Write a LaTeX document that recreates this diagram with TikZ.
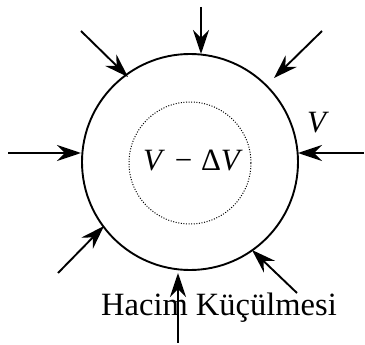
\documentclass[tikz,border=0pt]{standalone}
\usepackage{fontspec}
\setmainfont{Liberation Serif}
\usetikzlibrary{arrows.meta}
\begin{document}
\begin{tikzpicture}[x=1pt,y=-1pt,
  push/.style={line width=1.9pt,-{Stealth[length=24pt,width=16pt,inset=8pt]}},
  lbl/.style={inner sep=0pt,font=\fontsize{31}{37}\selectfont}]
\useasboundingbox (0,0) rectangle (365,345);
\node[circle,draw,line width=1.9pt,minimum size=216pt,inner sep=0pt] (outer) at (190,162) {};
\node[circle,draw,line width=1pt,dash pattern=on 1pt off 1.6pt,minimum size=122pt,inner sep=0pt] (inner) at (190,163) {};
\node[lbl,anchor=base] (dv) at (193,171) {\textit{V}\hspace{2pt} − \hspace{1pt}Δ\textit{V}};
\node[lbl,anchor=base] (vl) at (318,133) {\textit{V}};
\node[lbl,anchor=base west,font=\fontsize{32.5}{38}\selectfont] (hk) at (101,316) {Hacim Küçülmesi};
\coordinate (s1) at (201,7);   \coordinate (t1) at (201,54);
\coordinate (s2) at (81,31);   \coordinate (t2) at (128,77);
\coordinate (s3) at (322,31);  \coordinate (t3) at (274,78);
\coordinate (s4) at (8,153);   \coordinate (t4) at (81,153);
\coordinate (s5) at (364,153); \coordinate (t5) at (298,153);
\coordinate (s6) at (58,273);  \coordinate (t6) at (104,226);
\coordinate (s7) at (297,293); \coordinate (t7) at (252,250);
\coordinate (s8) at (178,343); \coordinate (t8) at (178,273);
\foreach \i in {1,...,8} {\draw[push] (s\i) -- (t\i);}
\end{tikzpicture}
\end{document}
